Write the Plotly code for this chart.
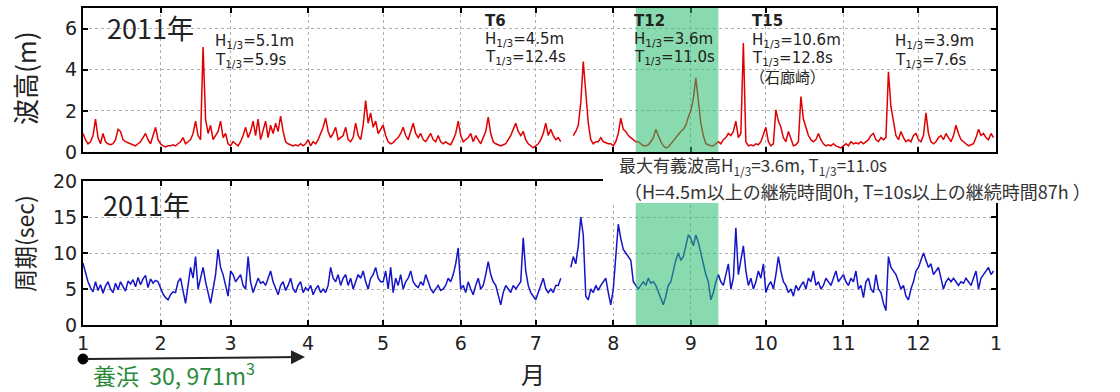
import plotly.graph_objects as go

# ---------------- data (day of year 2011, 0 = Jan 1) ----------------
month_start_days = [0, 31, 59, 90, 120, 151, 181, 212, 243, 273, 304, 334, 365]
month_labels = ["1", "2", "3", "4", "5", "6", "7", "8", "9", "10", "11", "12", "1"]

# significant wave height H1/3 (m), daily values per month
h_jan = [0.9, 0.6, 0.4, 0.5, 0.8, 1.6, 0.7, 0.4, 0.9, 0.5, 0.4, 0.35, 0.4, 0.6, 1.1, 1.0,
         0.6, 0.5, 0.45, 0.4, 0.35, 0.3, 0.4, 0.5, 0.7, 0.9, 0.6, 0.4, 0.8, 1.2, 0.6]
h_feb = [0.4, 0.3, 0.25, 0.3, 0.3, 0.35, 0.3, 0.4, 0.5, 0.7, 0.4, 0.5, 0.6, 0.9, 1.5, 0.8,
         0.6, 5.1, 1.6, 0.9, 1.3, 0.6, 0.8, 1.0, 1.5, 0.7, 0.9, 0.4]
h_mar = [0.3, 0.5, 0.4, 0.3, 0.5, 0.8, 1.2, 0.7, 1.0, 1.5, 0.8, 1.6, 0.6, 1.0, 1.5, 0.7,
         1.3, 0.9, 1.4, 1.0, 1.75, 1.0, 0.5, 0.4, 0.35, 0.3, 0.35, 0.3, 0.4, 0.3, 0.4]
h_apr = [0.6, 0.3, 0.5, 0.4, 0.6, 0.9, 1.2, 1.65, 1.0, 0.7, 0.9, 1.2, 0.6, 0.7, 0.8, 1.2,
         0.6, 0.5, 0.7, 1.4, 0.8, 0.6, 1.3, 2.5, 1.4, 1.9, 1.2, 1.5, 0.9, 1.1]
h_may = [1.3, 0.8, 0.5, 0.4, 0.45, 0.6, 0.7, 0.9, 1.2, 0.8, 0.6, 1.0, 1.4, 0.9, 0.7, 0.9,
         0.6, 0.5, 0.7, 0.9, 0.6, 0.5, 0.8, 0.5, 0.4, 0.5, 0.4, 0.35, 0.6, 0.9, 1.5]
h_jun = [0.8, 0.5, 0.6, 0.7, 0.9, 0.5, 0.8, 0.6, 0.4, 0.7, 1.0, 1.7, 0.9, 0.5, 0.4, 0.35,
         0.3, 0.35, 0.4, 0.6, 0.8, 1.1, 1.4, 1.0, 0.8, 1.0, 0.6, 0.4, 0.3, 0.2]
h_jul = [0.3, 0.4, 0.6, 0.9, 1.4, 0.8, 1.1, 0.8, 0.6, 0.7, 0.5, None, None, None, None, 0.8,
         1.0, 1.3, 2.4, 4.4, 3.0, 1.4, 0.6, 0.4, 0.5, 0.5, 0.7, 0.5, 0.45, 0.4, 0.4]
h_aug = [0.3, 0.5, 0.9, 1.65, 1.1, 1.0, 0.8, 0.7, 0.6, 0.5, 0.5, 0.4, 0.3, 0.3, 0.35, 0.5,
         0.7, 1.1, 0.8, 0.5, 0.3, 0.2, 0.25, 0.4, 0.6, 0.7, 0.9, 1.0, 1.1, 1.3, 1.7]
h_sep = [2.0, 2.6, 3.6, 2.5, 1.4, 0.8, 0.4, 0.35, 0.3, 0.3, 0.4, 0.5, 0.4, 0.6, 0.7, 0.9,
         0.8, 1.0, 1.5, 0.7, 0.9, 5.3, 0.5, 0.3, 0.35, 0.3, 0.4, 0.35, 0.5, 0.9]
h_oct = [1.2, 0.5, 0.3, 0.4, 2.05, 1.5, 1.2, 0.7, 0.5, 1.0, 0.6, 0.3, 0.35, 0.5, 2.7, 1.6,
         1.2, 0.8, 0.6, 0.5, 0.6, 0.9, 0.6, 0.4, 0.3, 0.35, 0.3, 0.4, 0.3, 0.25, 0.2]
h_nov = [0.3, 0.4, 0.3, 0.5, 0.4, 0.45, 0.4, 0.5, 0.4, 0.5, 0.6, 0.8, 0.9, 0.6, 0.5, 0.7,
         0.6, 0.7, 3.9, 2.2, 1.4, 0.8, 0.6, 1.0, 0.7, 0.5, 0.6, 0.5, 0.8, 0.9]
h_dec = [0.6, 0.5, 0.8, 1.9, 0.9, 0.5, 0.4, 0.5, 0.7, 0.8, 0.6, 0.9, 0.7, 0.5, 0.8, 1.3,
         0.9, 0.6, 0.5, 0.4, 0.3, 0.35, 0.4, 0.7, 1.1, 0.8, 0.9, 0.7, 0.6, 0.9, 0.7]

# significant wave period T1/3 (s), daily values per month
t_jan = [8.6, 7.2, 6.0, 5.2, 4.6, 6.0, 4.8, 5.6, 4.4, 5.4, 6.0, 5.0, 4.5, 5.8, 4.9, 6.0,
         5.4, 4.7, 6.1, 5.7, 6.3, 5.3, 6.6, 5.6, 6.4, 6.9, 5.2, 6.4, 5.8, 6.2, 6.0]
t_feb = [5.2, 4.3, 3.8, 3.5, 4.2, 4.6, 4.5, 6.0, 6.5, 4.5, 3.0, 5.5, 8.0, 6.5, 9.5, 5.0,
         6.5, 8.0, 6.0, 4.5, 3.0, 5.0, 7.0, 10.5, 8.0, 7.0, 5.5, 4.0]
t_mar = [7.5, 7.0, 6.0, 6.5, 7.0, 5.5, 5.0, 9.5, 6.0, 4.5, 5.5, 6.5, 5.8, 6.0, 5.5, 6.5,
         7.5, 6.0, 5.0, 4.2, 5.5, 6.0, 4.8, 5.5, 6.5, 5.0, 4.5, 5.5, 6.0, 4.5, 5.2]
t_apr = [4.8, 5.5, 4.2, 5.0, 5.5, 4.5, 5.0, 4.5, 5.5, 8.0, 6.5, 6.0, 7.0, 5.5, 6.5, 7.0,
         5.5, 6.5, 5.0, 6.0, 7.0, 6.5, 7.5, 6.0, 5.0, 6.5, 7.0, 8.0, 6.5, 6.0]
t_may = [6.0, 7.5, 5.0, 8.0, 4.5, 6.5, 5.5, 7.0, 5.0, 6.0, 6.5, 7.5, 6.0, 5.5, 5.2, 6.0,
         5.5, 7.0, 6.0, 5.0, 4.5, 5.0, 5.5, 4.8, 5.0, 5.5, 6.5, 6.0, 7.0, 8.5, 10.7]
t_jun = [5.0, 5.5, 4.5, 6.0, 5.0, 4.2, 5.5, 6.5, 5.0, 5.5, 7.0, 8.8, 7.0, 6.0, 5.5, 4.0,
         2.8, 4.5, 5.5, 5.0, 4.5, 5.5, 5.0, 5.5, 6.0, 12.1, 7.5, 5.5, 4.5, 4.0]
t_jul = [3.5, 4.5, 5.5, 6.5, 5.0, 4.5, 5.0, 4.5, 5.5, 5.5, 6.5, None, None, None, 8.0, 9.5,
         8.5, 11.0, 15.0, 12.5, 4.0, 3.5, 5.0, 4.5, 5.5, 4.8, 5.5, 6.0, 6.5, 4.5, 2.8]
t_aug = [5.0, 9.0, 14.0, 12.0, 10.5, 10.0, 9.5, 9.0, 6.0, 5.5, 5.0, 5.5, 6.0, 5.5, 6.5, 5.8,
         6.0, 5.5, 4.5, 3.5, 2.8, 4.0, 5.5, 6.0, 7.5, 9.0, 10.0, 9.0, 9.5, 11.0, 12.5]
t_sep = [12.0, 11.0, 12.5, 11.5, 10.0, 8.5, 7.0, 6.0, 3.5, 4.5, 6.0, 7.0, 6.0, 5.5, 7.0, 8.5,
         5.0, 6.5, 13.5, 7.0, 9.0, 11.0, 7.5, 5.5, 6.5, 5.0, 6.0, 7.5, 6.5, 8.5]
t_oct = [4.5, 5.5, 6.0, 5.0, 7.0, 9.5, 7.5, 6.0, 5.5, 4.5, 5.0, 4.0, 5.5, 4.8, 5.5, 6.0,
         5.0, 6.5, 6.0, 7.5, 5.5, 6.0, 5.0, 5.5, 6.5, 6.0, 5.5, 6.5, 7.5, 6.0, 6.5]
t_nov = [7.0, 6.0, 5.5, 6.5, 6.0, 7.5, 5.0, 5.5, 3.8, 6.0, 6.5, 5.0, 4.5, 7.0, 5.0, 4.5,
         3.0, 2.0, 9.5, 8.0, 7.5, 7.0, 6.0, 5.0, 5.5, 4.0, 3.5, 5.0, 6.0, 7.5]
t_dec = [8.0, 9.0, 10.0, 9.0, 8.0, 8.5, 7.0, 7.5, 8.0, 6.5, 5.0, 6.0, 6.5, 6.0, 6.5, 6.0,
         5.5, 6.0, 5.8, 6.5, 6.0, 5.5, 6.5, 7.5, 5.0, 6.5, 7.0, 7.5, 8.0, 7.0, 7.5]

storm_period = [221, 254]   # shaded T12 period (day of year)

# ---------------- build ----------------
wave_h = h_jan + h_feb + h_mar + h_apr + h_may + h_jun + h_jul + h_aug + h_sep + h_oct + h_nov + h_dec
wave_t = t_jan + t_feb + t_mar + t_apr + t_may + t_jun + t_jul + t_aug + t_sep + t_oct + t_nov + t_dec
days_h = list(range(len(wave_h)))
days_t = list(range(len(wave_t)))

W, H = 1120, 392
def px(x):
    return x / W
def py(y):
    return 1 - y / H

fig = go.Figure()
fig.add_trace(go.Scatter(x=days_h, y=wave_h, mode="lines", line=dict(color="#e00000", width=1.5),
                         connectgaps=False, xaxis="x", yaxis="y", showlegend=False))
fig.add_trace(go.Scatter(x=days_t, y=wave_t, mode="lines", line=dict(color="#1414c8", width=1.5),
                         connectgaps=False, xaxis="x2", yaxis="y2", showlegend=False))

tick_font = dict(family="DejaVu Sans", size=19, color="#222")
common_x = dict(range=[0, 365], tickvals=month_start_days, showgrid=True, gridcolor="#b0b0b0",
                griddash="dot", gridwidth=1, showline=True, linecolor="black", linewidth=2,
                mirror="ticks", ticks="inside", ticklen=5, tickwidth=2, tickcolor="black",
                zeroline=False, domain=[px(83), px(996)], automargin=False)
common_y = dict(showgrid=True, gridcolor="#b0b0b0", griddash="dot", gridwidth=1, showline=True,
                linecolor="black", linewidth=2, mirror="ticks", ticks="inside", ticklen=5,
                tickwidth=2, tickcolor="black", zeroline=False, tickfont=tick_font, automargin=False)

fig.update_layout(
    width=W, height=H, margin=dict(l=0, r=0, t=0, b=0, autoexpand=False),
    paper_bgcolor="white", plot_bgcolor="white",
    xaxis=dict(common_x, anchor="y", showticklabels=False),
    yaxis=dict(common_y, range=[0, 7], tickvals=[0, 2, 4, 6], domain=[py(152), py(8)], anchor="x"),
    xaxis2=dict(common_x, anchor="y2", ticktext=month_labels, tickfont=tick_font),
    yaxis2=dict(common_y, range=[0, 20], tickvals=[0, 5, 10, 15, 20], domain=[py(325), py(181)], anchor="x2"),
)

green = "rgba(40,190,110,0.55)"
fig.add_shape(type="rect", xref="x", yref="y", x0=storm_period[0], x1=storm_period[1], y0=0, y1=7,
              fillcolor=green, line=dict(width=0), layer="above")
fig.add_shape(type="rect", xref="x2", yref="y2", x0=storm_period[0], x1=storm_period[1], y0=0, y1=20,
              fillcolor=green, line=dict(width=0), layer="above")
# white box covering the top-right of the lower frame (behind the summary text)
fig.add_shape(type="rect", xref="paper", yref="paper", x0=px(603), x1=px(1120), y0=py(203), y1=py(157),
              fillcolor="white", line=dict(width=0), layer="above")

# dot at start of nourishment arrow
fig.add_shape(type="circle", xref="paper", yref="paper", x0=px(78), x1=px(88), y0=py(364), y1=py(354),
              fillcolor="black", line=dict(color="black", width=1))

ann = []
def txt(x, y, s, size=15, color="#222", family="DejaVu Sans", xanchor="left", **kw):
    ann.append(dict(x=px(x), y=py(y), xref="paper", yref="paper", text=s, showarrow=False,
                    xanchor=xanchor, yanchor="middle", font=dict(family=family, size=size, color=color), **kw))

jp = "Noto Sans CJK JP"
txt(105, 28, "2011年", size=27, family=jp)
txt(101, 204, "2011年", size=27, family=jp)

txt(213, 42, "H<sub>1/3</sub>=5.1m")
txt(213, 60, "T<sub>1/3</sub>=5.9s")
txt(483, 21, "<b>T6</b>")
txt(483, 39, "H<sub>1/3</sub>=4.5m")
txt(483, 57, "T<sub>1/3</sub>=12.4s")
txt(632, 21, "<b>T12</b>")
txt(632, 39, "H<sub>1/3</sub>=3.6m")
txt(632, 57, "T<sub>1/3</sub>=11.0s")
txt(750, 21, "<b>T15</b>")
txt(750, 40, "H<sub>1/3</sub>=10.6m")
txt(750, 58, "T<sub>1/3</sub>=12.8s")
txt(748, 77, "（石廊崎）", family=jp)
txt(893, 42, "H<sub>1/3</sub>=3.9m")
txt(893, 60, "T<sub>1/3</sub>=7.6s")

txt(617, 165, "最大有義波高H<sub>1/3</sub>=3.6m, T<sub>1/3</sub>=11.0s", size=17, family=jp, color="#333")
txt(622, 191, "（H=4.5m以上の継続時間0h, T=10s以上の継続時間87h ）", size=18, family=jp, color="#333")

txt(533, 373, "月", size=24, family=jp, xanchor="center")
txt(91, 374, "養浜  30, 971m<sup>3</sup>", size=23, family=jp, color="#2a8a3c")

# axis titles
ann.append(dict(x=px(24), y=py(78), xref="paper", yref="paper", text="波高(m)", showarrow=False,
                textangle=-90, xanchor="center", yanchor="middle", font=dict(family=jp, size=26, color="#222")))
ann.append(dict(x=px(24), y=py(244), xref="paper", yref="paper", text="周期(sec)", showarrow=False,
                textangle=-90, xanchor="center", yanchor="middle", font=dict(family=jp, size=23, color="#222")))

# nourishment arrow
ann.append(dict(x=px(305), y=py(357), xref="paper", yref="paper", ax=-220, ay=2, axref="pixel", ayref="pixel",
                text="", showarrow=True, arrowhead=2, arrowsize=1.4, arrowwidth=2, arrowcolor="#222"))

fig.update_layout(annotations=ann)
fig.write_html("out.html", config={"displayModeBar": False},
               post_script="document.body.style.margin='0';document.body.style.overflow='hidden';")
